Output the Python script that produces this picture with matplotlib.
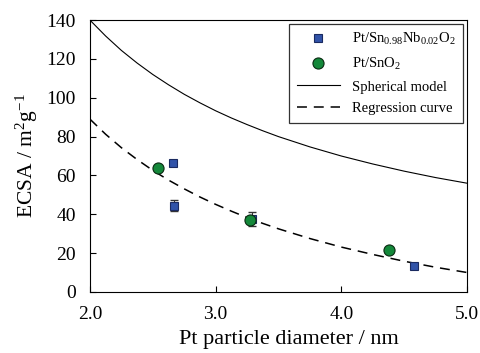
import matplotlib
matplotlib.use("Agg")
import matplotlib.pyplot as plt
from matplotlib.ticker import FormatStrFormatter

plt.rcParams['font.family'] = ['Liberation Serif', 'DejaVu Serif']
plt.rcParams['mathtext.fontset'] = 'custom'
plt.rcParams['mathtext.rm'] = 'Liberation Serif'
plt.rcParams['mathtext.it'] = 'Liberation Serif:italic'

# Data
nb_d = [2.66, 2.67, 3.29, 4.58]
nb_ecsa = [66.3, 44.4, 37.4, 13.4]
nb_err = [1.0, 2.8, 3.6, 0.8]

sno2_d = [2.54, 3.27, 4.38]
sno2_ecsa = [63.6, 37.0, 21.6]

curve_d = [2.0, 2.125, 2.25, 2.375, 2.5, 2.625, 2.75, 2.875, 3.0, 3.125, 3.25, 3.375,
           3.5, 3.75, 4.0, 4.25, 4.5, 4.75, 5.0]
spherical = [140.0, 131.8, 124.4, 117.9, 112.0, 106.7, 101.8, 97.4, 93.3, 89.6, 86.2, 83.0,
             80.0, 74.7, 70.0, 65.9, 62.2, 58.9, 56.0]
regression = [89.0, 81.2, 74.3, 68.2, 62.6, 57.6, 53.1, 48.9, 45.1, 41.6, 38.3, 35.3,
              32.5, 27.5, 23.1, 19.3, 15.8, 12.7, 10.0]

fig = plt.figure(figsize=(4.81, 3.53), dpi=100)
ax = fig.add_axes([0.187, 0.173, 0.784, 0.770])

ax.plot(curve_d, spherical, color='black', lw=0.8, label='Spherical model', zorder=2)
ax.plot(curve_d, regression, color='black', lw=1.1, ls=(0, (6.5, 4.5)), label='Regression curve', zorder=2)

ax.errorbar(nb_d, nb_ecsa, yerr=nb_err, fmt='none', ecolor='#333333', elinewidth=0.8, capsize=3, zorder=3)
ax.plot(nb_d, nb_ecsa, ls='none', marker='s', ms=6.3, mfc='#3153a8', mec='#1a2a60', mew=0.8,
        label='Pt/Sn$_{0.98}$Nb$_{0.02}$O$_2$', zorder=4)
ax.plot(sno2_d, sno2_ecsa, ls='none', marker='o', ms=8, mfc='#14883a', mec='#0a2a12', mew=0.8,
        label='Pt/SnO$_2$', zorder=5)

ax.set_xlim(2.0, 5.0)
ax.set_ylim(0, 140)
ax.set_xticks([2.0, 3.0, 4.0, 5.0])
ax.set_yticks(range(0, 141, 20))
ax.xaxis.set_major_formatter(FormatStrFormatter('%.1f'))
ax.tick_params(direction='in', labelsize=14, length=4, width=0.8, pad=10)
for s in ax.spines.values():
    s.set_linewidth(0.8)

ax.set_xlabel('Pt particle diameter / nm', fontsize=16, labelpad=5)
ax.xaxis.label.set_x(0.527)
ax.set_ylabel('ECSA / m$^2$g$^{-1}$', fontsize=15.5, labelpad=5)

h, l = ax.get_legend_handles_labels()
order = [2, 3, 0, 1]
leg = ax.legend([h[i] for i in order], [l[i] for i in order], loc='upper right',
                bbox_to_anchor=(0.989, 0.986), borderaxespad=0, fontsize=10.5,
                fancybox=False, shadow=False, edgecolor='#333333', framealpha=1,
                handlelength=3.0, handletextpad=0.8, borderpad=0.5, labelspacing=0.58)
leg.get_frame().set_linewidth(0.9)

fig.savefig('out.png', dpi=100)
